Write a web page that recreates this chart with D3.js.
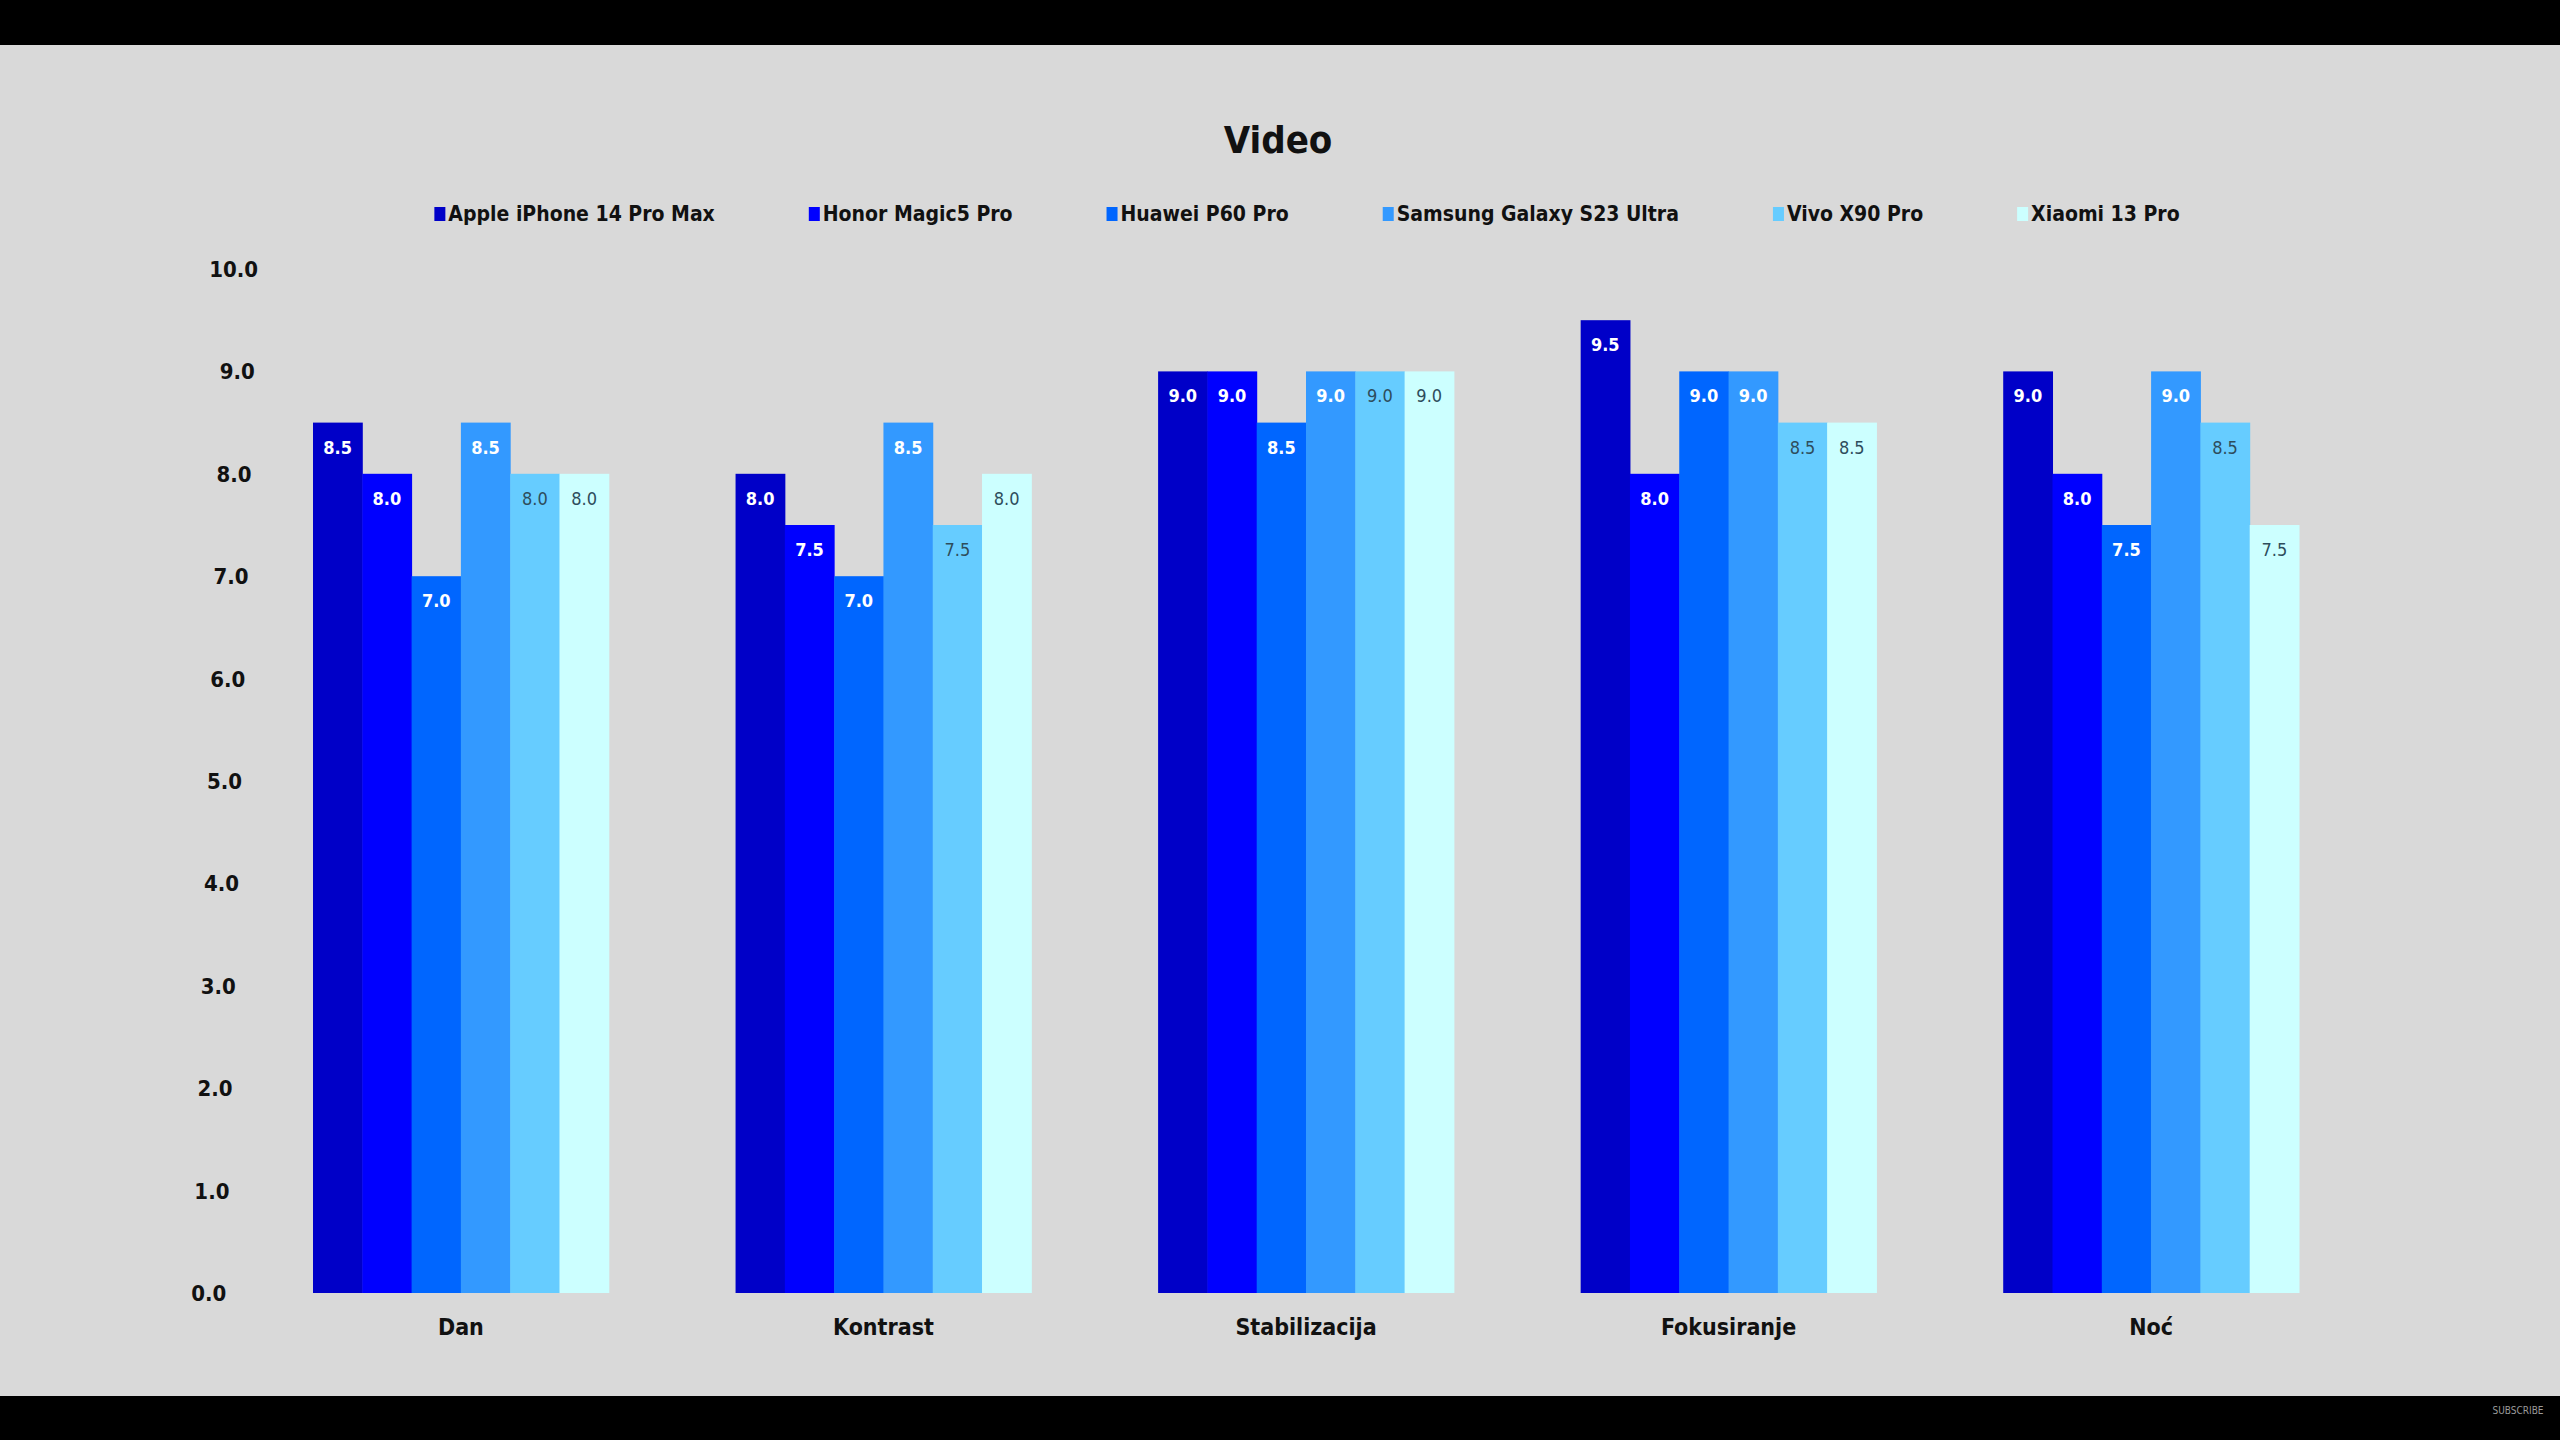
<!DOCTYPE html>
<html>
<head>
<meta charset="utf-8">
<script src="https://cdn.jsdelivr.net/npm/d3@7"></script>
<style>
  body { margin: 0; background: #000; }
  svg { display: block; }
  .axis path, .axis line { display: none; }
</style>
</head>
<body>
<svg class="video-chart"></svg>
<script>
// categories and phones
let categories = ["Dan", "Kontrast", "Stabilizacija", "Fokusiranje", "Noć"]
let phones = ["Apple iPhone 14 Pro Max", "Honor Magic5 Pro", "Huawei P60 Pro", "Samsung Galaxy S23 Ultra", "Vivo X90 Pro", "Xiaomi 13 Pro"]
let colors = ["#0000c8", "#0000ff", "#0066ff", "#3399ff", "#66ccff", "#ccffff"]

// scores per category, one value for each phone
let apple   = [8.5, 8.0, 9.0, 9.5, 9.0]
let honor   = [8.0, 7.5, 9.0, 8.0, 8.0]
let huawei  = [7.0, 7.0, 8.5, 9.0, 7.5]
let samsung = [8.5, 8.5, 9.0, 9.0, 9.0]
let vivo    = [8.0, 7.5, 9.0, 8.5, 8.5]
let xiaomi  = [8.0, 8.0, 9.0, 8.5, 7.5]
let yTicks = [0, 1, 2, 3, 4, 5, 6, 7, 8, 9, 10]

let series = [apple, honor, huawei, samsung, vivo, xiaomi]

let width = 2560
let height = 1440
let font = '"Liberation Sans Narrow", "DejaVu Sans Condensed", "Liberation Sans", sans-serif'

let svg = d3.select('.video-chart')
    .attr('width', width)
    .attr('height', height)
    .style('font-family', font)

// grey screen between the black video bars
svg.append('rect').attr('width', width).attr('height', height).attr('fill', '#000')
svg.append('rect').attr('y', 45).attr('width', width).attr('height', 1351).attr('fill', '#d9d9d9')

svg.append('text')
    .attr('x', 2518)
    .attr('y', 1414)
    .attr('text-anchor', 'middle')
    .attr('font-size', 10)
    .attr('fill', '#9a9a9a')
    .text('SUBSCRIBE')

// title
svg.append('text')
    .attr('x', 1278)
    .attr('y', 153)
    .attr('text-anchor', 'middle')
    .attr('font-size', 38)
    .attr('font-weight', 'bold')
    .attr('fill', '#111')
    .text('Video')

let x0 = d3.scaleBand().domain(categories).range([313, 2299]).paddingInner(0.3).paddingOuter(0)
let x1 = d3.scaleBand().domain(phones).range([0, x0.bandwidth()]).padding(0)
let y = d3.scaleLinear().domain([0, 10]).range([1293, 269])

// y axis labels, drift a bit left going down like the photographed slide
let yAxis = svg.append('g').attr('class', 'axis y')
yAxis.selectAll('text')
    .data(yTicks)
    .enter()
    .append('text')
    .attr('x', d => 258 - 0.031 * (y(d) - y(10)))
    .attr('y', d => y(d) + 8)
    .attr('text-anchor', 'end')
    .attr('font-size', 22)
    .attr('font-weight', 'bold')
    .attr('fill', '#111')
    .text(d => d3.format('.1f')(d))

// x axis labels
svg.append('g').attr('class', 'axis x')
    .attr('transform', 'translate(0,1313)')
    .call(d3.axisBottom(x0).tickSize(0).tickPadding(0))
    .selectAll('text')
    .attr('dy', '0.95em')
    .attr('font-size', 23)
    .attr('font-weight', 'bold')
    .attr('fill', '#111')
    .style('font-family', font)

let rows = []
categories.forEach((c, ci) => {
  phones.forEach((p, pi) => {
    rows.push({ category: c, phone: p, index: pi, value: series[pi][ci] })
  })
})

let bars = svg.append('g').selectAll('.bar')
    .data(rows)
    .enter()

bars.append('rect')
    .attr('class', 'bar')
    .attr('x', d => x0(d.category) + x1(d.phone))
    .attr('y', d => y(d.value))
    .attr('width', x1.bandwidth() + 0.5)
    .attr('height', d => y(0) - y(d.value))
    .attr('fill', d => colors[d.index])

bars.append('text')
    .attr('x', d => x0(d.category) + x1(d.phone) + x1.bandwidth() / 2)
    .attr('y', d => y(d.value) + 31)
    .attr('text-anchor', 'middle')
    .attr('font-size', 18)
    .attr('font-weight', d => d.index < 4 ? 'bold' : 'normal')
    .attr('fill', d => d.index < 4 ? '#ffffff' : '#2e4d5c')
    .text(d => d3.format('.1f')(d.value))

// legend, items spaced by their text width
let legend = svg.append('g')
let lx = 0
phones.forEach((p, i) => {
  let item = legend.append('g').attr('transform', 'translate(' + lx + ',0)')
  item.append('rect')
      .attr('x', 0).attr('y', -14)
      .attr('width', 11).attr('height', 14)
      .attr('fill', colors[i])
  let t = item.append('text')
      .attr('x', 14)
      .attr('font-size', 21)
      .attr('font-weight', 'bold')
      .attr('fill', '#111')
      .text(p)
  lx += 14 + t.node().getComputedTextLength() + 94
})
let legendWidth = lx - 94
legend.attr('transform', 'translate(' + (1307 - legendWidth / 2) + ',221)')
</script>
</body>
</html>
